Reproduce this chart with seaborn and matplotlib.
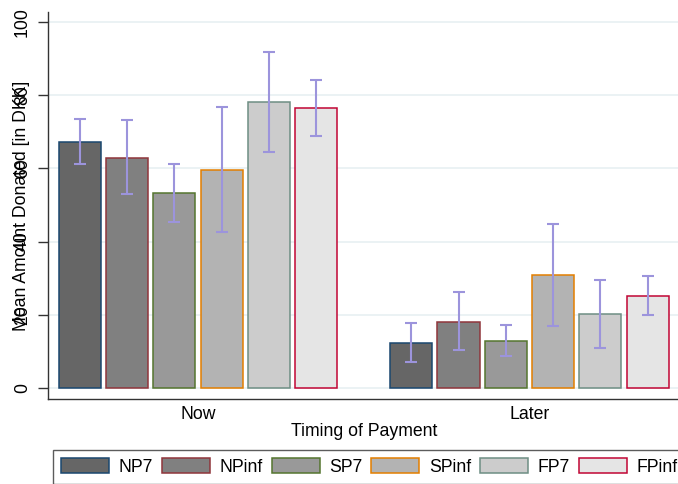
import matplotlib
matplotlib.use("Agg")
import matplotlib.pyplot as plt
from matplotlib.patches import Patch
import seaborn as sns
import pandas as pd

timing = ["Now", "Later"]
groups = ["NP7", "NPinf", "SP7", "SPinf", "FP7", "FPinf"]
now_mean = [67.3, 63.0, 53.2, 59.6, 78.1, 76.5]
later_mean = [12.3, 18.1, 12.9, 30.8, 20.1, 25.0]
now_lo = [61.1, 53.0, 45.4, 42.7, 64.4, 69.0]
now_hi = [73.6, 73.3, 61.1, 76.7, 92.0, 84.2]
later_lo = [7.1, 10.2, 8.7, 17.0, 10.9, 19.8]
later_hi = [17.8, 26.3, 17.2, 44.9, 29.5, 30.6]
yticks = [0, 20, 40, 60, 80, 100]

fills = ["#666666", "#808080", "#999999", "#b3b3b3", "#cccccc", "#e5e5e5"]
edges = ["#1a476f", "#90353b", "#55752f", "#e37e00", "#6e8e84", "#c10534"]
err_color = "#9c94dc"

rows = []
for g, a, b in zip(groups, now_mean, later_mean):
    rows.append({"timing": "Now", "group": g, "value": a})
    rows.append({"timing": "Later", "group": g, "value": b})
df = pd.DataFrame(rows)

sns.set_style("white")
plt.rcParams["font.family"] = ["Liberation Sans", "DejaVu Sans"]
plt.rcParams["text.color"] = "black"
plt.rcParams["axes.labelcolor"] = "black"
plt.rcParams["xtick.color"] = "black"
plt.rcParams["ytick.color"] = "black"
FS = 12.7

fig = plt.figure(figsize=(6.78, 4.84), dpi=100)
W, H = 678, 484
left, right, top, bottom = 47.7, 680, 11.7, 399.3
ax = fig.add_axes([left / W, 1 - bottom / H, (right - left) / W, (bottom - top) / H])

sns.barplot(data=df, x="timing", y="value", hue="group", order=timing,
            hue_order=groups, palette=fills, width=0.856, gap=0.11,
            errorbar=None, legend=False, ax=ax, linewidth=1.1, saturation=1)

bar_conts = list(ax.containers)
los = list(zip(now_lo, later_lo))
his = list(zip(now_hi, later_hi))
for i, cont in enumerate(bar_conts):
    xs = []
    for bar in cont:
        bar.set_edgecolor(edges[i])
        bar.set_linewidth(1.1)
        bar.set_zorder(2)
        xs.append(bar.get_x() + bar.get_width() / 2)
    for x, lo, hi in zip(xs, los[i], his[i]):
        ax.errorbar([x], [(lo + hi) / 2], yerr=[[(hi - lo) / 2]], fmt="none",
                    ecolor=err_color, elinewidth=1.5, capsize=4.5,
                    capthick=1.5, zorder=3)

ax.set_xlim(-0.453, (right - 198) / 331.5)
ax.set_ylim(-3.17, 102.9)
ax.set_yticks(yticks)
ax.set_yticklabels([str(t) for t in yticks])
ax.yaxis.grid(True, color="#e8f0f2", linewidth=1.2, zorder=0)
ax.set_axisbelow(True)
for s in ["top", "right"]:
    ax.spines[s].set_visible(False)
for s in ["left", "bottom"]:
    ax.spines[s].set_color("#333333")
    ax.spines[s].set_linewidth(1.0)
ax.tick_params(axis="y", left=True, length=7, width=1, color="#333333",
               labelrotation=90, labelsize=FS, pad=5)
ax.tick_params(axis="x", bottom=False, labelsize=FS, pad=1.5)
for lab in ax.get_yticklabels():
    lab.set_va("center")

ax.set_xlabel("Timing of Payment", fontsize=FS, labelpad=0)
ax.set_ylabel("Mean Amount Donated [in DKK]", fontsize=FS, ha="center", va="center")
ax.yaxis.set_label_coords((22 - left) / (right - left), 0.5)

handles = [Patch(facecolor=f, edgecolor=e, linewidth=1.1) for f, e in zip(fills, edges)]
leg = fig.legend(handles, groups, loc="upper left", bbox_to_anchor=(53 / W, 1 - 450 / H),
                 ncol=6, fontsize=FS, frameon=True, fancybox=False, borderaxespad=0,
                 borderpad=0.45, handlelength=2.72, handleheight=0.98,
                 handletextpad=0.55, columnspacing=0.5)
leg.get_frame().set_edgecolor("#333333")
leg.get_frame().set_linewidth(1.0)

fig.savefig("out.png", dpi=100)
